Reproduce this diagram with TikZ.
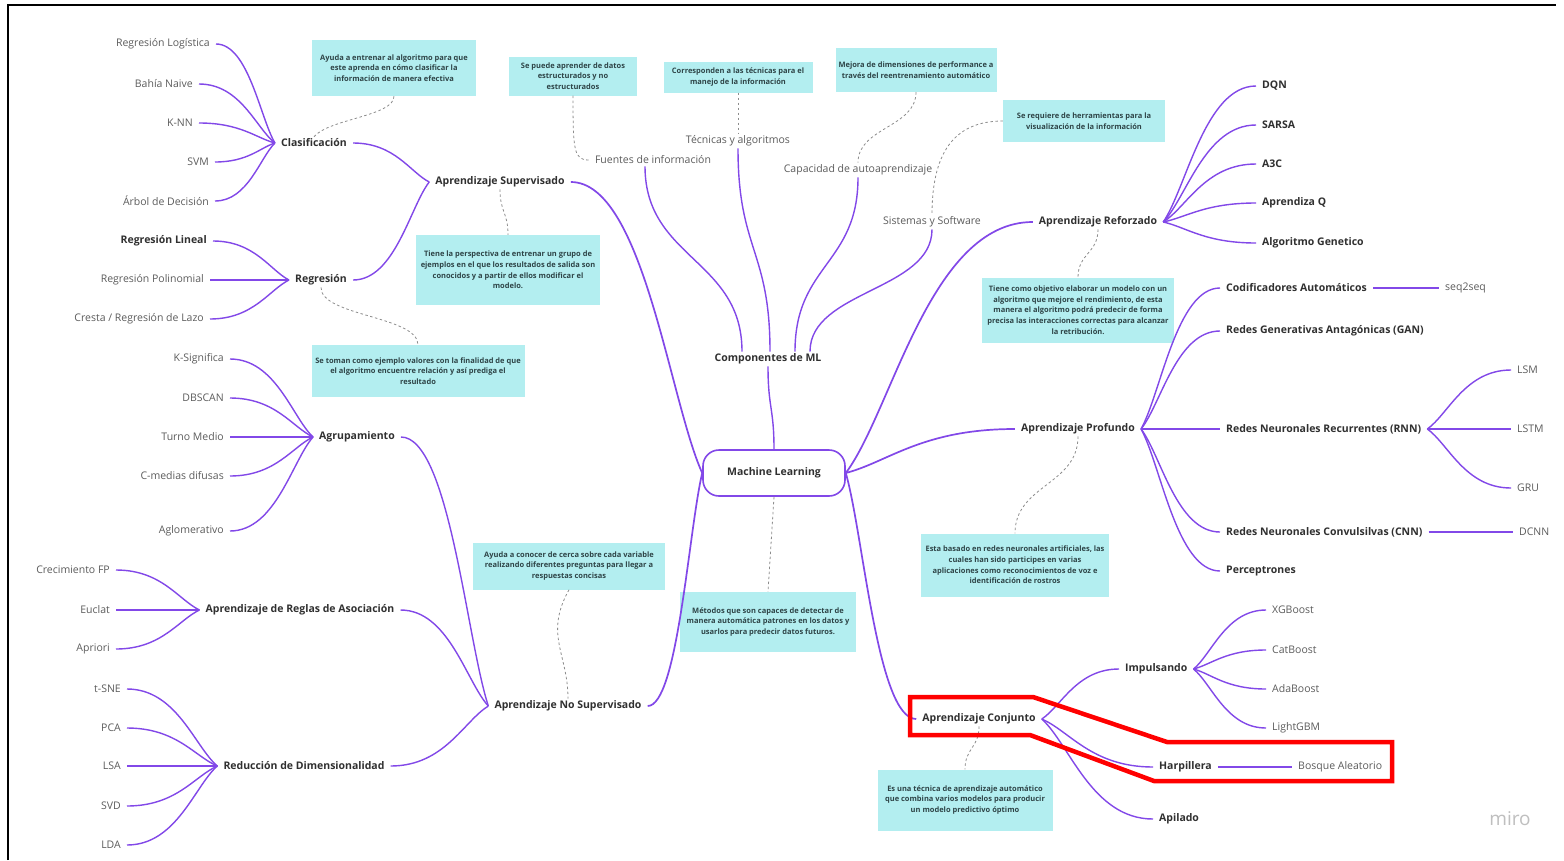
\documentclass[tikz,border=0pt]{standalone}
\usepackage{fontspec}
\setmainfont{Open Sans}
\usetikzlibrary{positioning,calc}
\definecolor{mlpurple}{HTML}{8248E8}
\definecolor{mlcyan}{HTML}{B3EEF0}
\definecolor{mlgrey}{HTML}{5C5C5C}
\definecolor{mldark}{HTML}{303030}
\definecolor{mlnote}{HTML}{2E4447}
\tikzset{
  fl/.style={to path={let \p1=(\tikztostart),\p2=(\tikztotarget) in
    .. controls (\x1+0.55*\x2-0.55*\x1,\y1) and (\x2-0.25*\x2+0.25*\x1,\y2+0.25*\y1-0.25*\y2)
    .. (\tikztotarget)}},
  fr/.style={to path={let \p1=(\tikztostart),\p2=(\tikztotarget) in
    .. controls (\x1+0.25*\x2-0.25*\x1,\y1+0.25*\y2-0.25*\y1) and (\x2-0.55*\x2+0.55*\x1,\y2)
    .. (\tikztotarget)}},
  vs/.style={to path={let \p1=(\tikztostart),\p2=(\tikztotarget) in
    .. controls (\x1,0.5*\y1+0.5*\y2) and (\x2,0.5*\y1+0.5*\y2) .. (\tikztotarget)}}}

\begin{document}
\begin{tikzpicture}[x=1pt,y=-1pt,
  lf/.style={font=\fontsize{10.5}{12}\selectfont,text=mlgrey,inner xsep=6pt,inner ysep=2pt},
  br/.style={font=\fontsize{10.5}{12}\selectfont\bfseries,text=mldark,inner xsep=6pt,inner ysep=2pt},
  bl/.style={lf,font=\fontsize{10.5}{12}\selectfont\bfseries,text=mldark},
  nt/.style={fill=mlcyan,align=center,inner sep=2pt,
    font=\fontsize{7.5}{10.6}\selectfont\bfseries,text=mlnote},
  ed/.style={draw=mlpurple,line width=1.4pt},
  med/.style={draw=mlpurple,line width=1.7pt},
  dl/.style={draw=black!45,dash pattern=on 2.5pt off 2.5pt,line width=0.8pt}]
\useasboundingbox (0,0) rectangle (1564,860);
\fill[white] (0,0) rectangle (1564,860);
\draw[line width=1.5pt] (8,860) -- (8,5) -- (1556,5);

% centre
\node[draw=mlpurple,line width=1.6pt,rounded corners=16pt,minimum width=142pt,
  minimum height=46pt,font=\fontsize{10.5}{12}\selectfont\bfseries,text=mldark]
  (ml) at (774,473) {Machine Learning};

% supervisado
\node[br] (sup) at (500,182) {Aprendizaje Supervisado};
\node[br] (clas) at (314,143) {Clasificación};
\node[br] (reg) at (321,280) {Regresión};
\node[lf,anchor=east] (c1) at (216,44) {Regresión Logística};
\node[lf,anchor=east] (c2) at (199,84) {Bahía Naive};
\node[lf,anchor=east] (c3) at (199,123) {K-NN};
\node[lf,anchor=east] (c4) at (215,162) {SVM};
\node[lf,anchor=east] (c5) at (215,201) {Árbol de Decisión};
\node[bl,anchor=east] (r1) at (213,241) {Regresión Lineal};
\node[lf,anchor=east] (r2) at (210,280) {Regresión Polinomial};
\node[lf,anchor=east] (r3) at (210,319) {Cresta / Regresión de Lazo};

% no supervisado
\node[br] (uns) at (568,706) {Aprendizaje No Supervisado};
\node[br] (agr) at (357,437) {Agrupamiento};
\node[br] (aso) at (300,610) {Aprendizaje de Reglas de Asociación};
\node[br] (red) at (304,766) {Reducción de Dimensionalidad};
\node[lf,anchor=east] (g1) at (230,359) {K-Significa};
\node[lf,anchor=east] (g2) at (230,398) {DBSCAN};
\node[lf,anchor=east] (g3) at (230,437) {Turno Medio};
\node[lf,anchor=east] (g4) at (230,476) {C-medias difusas};
\node[lf,anchor=east] (g5) at (230,531) {Aglomerativo};
\node[lf,anchor=east] (a1) at (116,570) {Crecimiento FP};
\node[lf,anchor=east] (a2) at (116,610) {Euclat};
\node[lf,anchor=east] (a3) at (116,649) {Apriori};
\node[lf,anchor=east] (d1) at (127,689) {t-SNE};
\node[lf,anchor=east] (d2) at (127,728) {PCA};
\node[lf,anchor=east] (d3) at (127,766) {LSA};
\node[lf,anchor=east] (d4) at (127,806) {SVD};
\node[lf,anchor=east] (d5) at (127,845) {LDA};

% componentes
\node[br] (comp) at (768,359) {Componentes de ML};
\node[lf] (fue) at (653,160) {Fuentes de información};
\node[lf] (tec) at (738,141) {Técnicas y algoritmos};
\node[lf] (cap) at (858,170) {Capacidad de autoaprendizaje};
\node[lf] (sis) at (932,222) {Sistemas y Software};

% reforzado
\node[br] (ref) at (1098,222) {Aprendizaje Reforzado};
\node[bl,anchor=west] (f1) at (1256,86) {DQN};
\node[bl,anchor=west] (f2) at (1256,125) {SARSA};
\node[bl,anchor=west] (f3) at (1256,164) {A3C};
\node[bl,anchor=west] (f4) at (1256,203) {Aprendiza Q};
\node[bl,anchor=west] (f5) at (1256,243) {Algoritmo Genetico};

% profundo
\node[br] (pro) at (1078,429) {Aprendizaje Profundo};
\node[bl,anchor=west] (p1) at (1220,288) {Codificadores Automáticos};
\node[bl,anchor=west] (p2) at (1220,331) {Redes Generativas Antagónicas (GAN)};
\node[bl,anchor=west] (p3) at (1220,429) {Redes Neuronales Recurrentes (RNN)};
\node[bl,anchor=west] (p4) at (1220,532) {Redes Neuronales Convulsilvas (CNN)};
\node[bl,anchor=west] (p5) at (1220,571) {Perceptrones};
\node[lf,anchor=west] (s1) at (1439,288) {seq2seq};
\node[lf,anchor=west] (q1) at (1511,370) {LSM};
\node[lf,anchor=west] (q2) at (1511,429) {LSTM};
\node[lf,anchor=west] (q3) at (1511,488) {GRU};
\node[lf,anchor=west] (k1) at (1513,532) {DCNN};

% conjunto
\node[br] (con) at (979,719) {Aprendizaje Conjunto};
\node[bl,anchor=west] (imp) at (1119,669) {Impulsando};
\node[bl,anchor=west] (har) at (1153,767) {Harpillera};
\node[bl,anchor=west] (api) at (1153,819) {Apilado};
\node[lf,anchor=west] (b1) at (1266,610) {XGBoost};
\node[lf,anchor=west] (b2) at (1266,650) {CatBoost};
\node[lf,anchor=west] (b3) at (1266,689) {AdaBoost};
\node[lf,anchor=west] (b4) at (1266,728) {LightGBM};
\node[lf,anchor=west] (bos) at (1292,767) {Bosque Aleatorio};

% notas
\node[nt,minimum width=164pt,minimum height=56pt] (nclas) at (394,68)
  {Ayuda a entrenar al algoritmo para que\\este aprenda en cómo clasificar la\\información de manera efectiva};
\node[nt,minimum width=184pt,minimum height=70pt] (nsup) at (508,270)
  {Tiene la perspectiva de entrenar un grupo de\\ejemplos en el que los resultados de salida son\\conocidos y a partir de ellos modificar el\\modelo.};
\node[nt,minimum width=213pt,minimum height=52pt] (nreg) at (418,371)
  {Se toman como ejemplo valores con la finalidad de que\\el algoritmo encuentre relación y así prediga el\\resultado};
\node[nt,minimum width=128pt,minimum height=39pt] (nfue) at (573,76)
  {Se puede aprender de datos\\estructurados y no\\estructurados};
\node[nt,minimum width=149pt,minimum height=31pt] (ntec) at (738,77)
  {Corresponden a las técnicas para el\\manejo de la información};
\node[nt,minimum width=161pt,minimum height=44pt] (ncap) at (916,70)
  {Mejora de dimensiones de performance a\\través del reentrenamiento automático};
\node[nt,minimum width=162pt,minimum height=42pt] (nsis) at (1084,121)
  {Se requiere de herramientas para la\\visualización de la información};
\node[nt,minimum width=192pt,minimum height=65pt] (nref) at (1078,310)
  {Tiene como objetivo elaborar un modelo con un\\algoritmo que mejore el rendimiento, de esta\\manera el algoritmo podrá predecir de forma\\precisa las interacciones correctas para alcanzar\\la retribución.};
\node[nt,minimum width=188pt,minimum height=63pt] (npro) at (1015,565)
  {Esta basado en redes neuronales artificiales, las\\cuales han sido participes en varias\\aplicaciones como reconocimientos de voz e\\identificación de rostros};
\node[nt,minimum width=192pt,minimum height=47pt] (nuns) at (569,566)
  {Ayuda a conocer de cerca sobre cada variable\\realizando diferentes preguntas para llegar a\\respuestas concisas};
\node[nt,minimum width=176pt,minimum height=60pt] (nml) at (768,622)
  {Métodos que son capaces de detectar de\\manera automática patrones en los datos y\\usarlos para predecir datos futuros.};
\node[nt,minimum width=175pt,minimum height=61pt] (ncon) at (965,800)
  {Es una técnica de aprendizaje automático\\que combina varios modelos para producir\\un modelo predictivo óptimo};

% ramas
\draw[med] (sup.east) to[fl] (ml.west);
\draw[med] (uns.east) to[fl] (ml.west);
\draw[med] (ml.east) to[fr] (ref.west);
\draw[med] (ml.east) to[fr] (pro.west);
\draw[med] (ml.east) to[fr] (con.west);
\draw[ed] (ml.north) to[vs] (comp.south);
\draw[ed] (clas.east) to[fl] (sup.west);
\draw[ed] (reg.east) to[fl] (sup.west);
\foreach \i in {1,...,5} {\draw[ed] (c\i.east) to[fl] (clas.west);}
\foreach \i in {1,...,3} {\draw[ed] (r\i.east) to[fl] (reg.west);}
\draw[ed] (agr.east) to[fl] (uns.west);
\draw[ed] (aso.east) to[fl] (uns.west);
\draw[ed] (red.east) to[fl] (uns.west);
\foreach \i in {1,...,5} {\draw[ed] (g\i.east) to[fl] (agr.west);}
\foreach \i in {1,...,3} {\draw[ed] (a\i.east) to[fl] (aso.west);}
\foreach \i in {1,...,5} {\draw[ed] (d\i.east) to[fl] (red.west);}
\draw[ed] ([xshift=-8pt]fue.south) to[vs] ([xshift=-26pt]comp.north);
\draw[ed] (tec.south) to[vs] ([xshift=2pt]comp.north);
\draw[ed] (cap.south) to[vs] ([xshift=27pt]comp.north);
\draw[ed] (sis.south) to[vs] ([xshift=42pt]comp.north);
\foreach \i in {1,...,5} {\draw[ed] (ref.east) to[fr] (f\i.west);}
\foreach \i in {1,...,5} {\draw[ed] (pro.east) to[fr] (p\i.west);}
\draw[ed] (p1.east) -- (s1.west);
\foreach \i in {1,...,3} {\draw[ed] (p3.east) to[fr] (q\i.west);}
\draw[ed] (p4.east) -- (k1.west);
\draw[ed] (con.east) to[fr] (imp.west);
\draw[ed] (con.east) to[fr] (har.west);
\draw[ed] (con.east) to[fr] (api.west);
\foreach \i in {1,...,4} {\draw[ed] (imp.east) to[fr] (b\i.west);}
\draw[ed] (har.east) -- (bos.west);

% enlaces de notas
\draw[dl] (clas.north) .. controls +(15,-18) and +(0,20) .. (nclas.south);
\draw[dl] (sup.south) to[vs] (nsup.north);
\draw[dl] (reg.south) to[vs] (nreg.north);
\draw[dl] (nfue.south) .. controls +(0,55) and +(-15,0) .. (fue.west);
\draw[dl] (ntec.south) to[vs] (tec.north);
\draw[dl] (ncap.south) to[vs] (cap.north);
\draw[dl] (nsis.west) .. controls +(-50,0) and +(0,-60) .. (sis.north);
\draw[dl] (ref.south) to[vs] (nref.north);
\draw[dl] (pro.south) to[vs] (npro.north);
\draw[dl] (nuns.south) .. controls +(-25,45) and +(0,-45) .. (uns.north);
\draw[dl] (ml.south) -- (nml.north);
\draw[dl] (con.south) to[vs] (ncon.north);

% marca
\draw[red,line width=4.5pt] (910,697) -- (1033,697) -- (1167,742) -- (1392,742)
  -- (1392,781) -- (1154,781) -- (1030,735) -- (910,735) -- cycle;
\node[text=black!25,font=\fontsize{19}{19}\selectfont] (wm) at (1510,819) {miro};
\end{tikzpicture}
\end{document}
